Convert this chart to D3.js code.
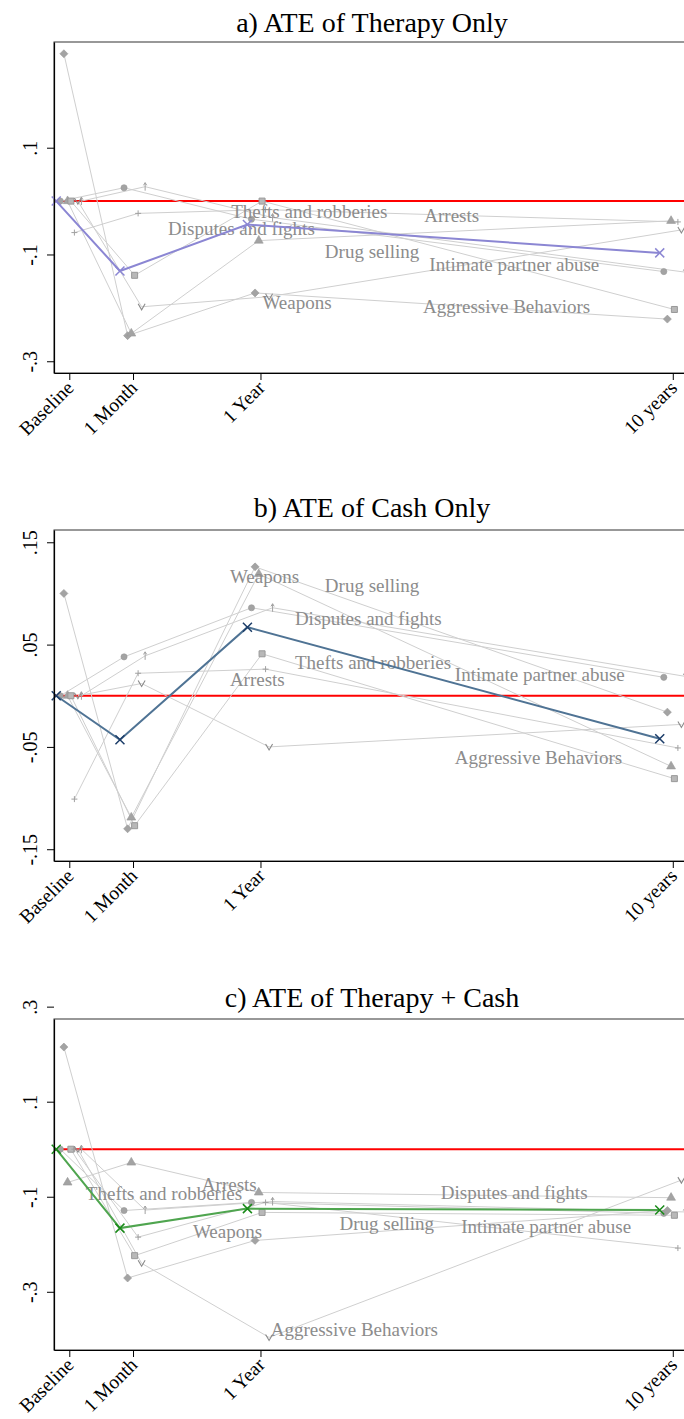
<!DOCTYPE html>
<html><head><meta charset="utf-8">
<script src="https://cdn.jsdelivr.net/npm/d3@7"></script>
<style>body{margin:0;background:#fff} svg{display:block} text{font-family:"Liberation Serif","Times New Roman",serif}</style>
</head><body>
<script>
// ---------- data ----------
const periods = ["Baseline", "1 Month", "1 Year", "10 years"];
const periodPos = [0, 1, 3, 9.47];
const outcomes = ["Disputes and fights", "Weapons", "Arrests", "Thefts and robberies",
                  "Intimate partner abuse", "Aggressive Behaviors", "Drug selling"];
const outcomeMarkers = ["circle", "diamond", "triangle", "square", "plus", "vee", "arrow"];
const panelTitles = ["a) ATE of Therapy Only", "b) ATE of Cash Only", "c) ATE of Therapy + Cash"];

const therapyATE = [0, -0.131, -0.044, -0.097];
const therapyOutcomes = [
  [0, 0.025, -0.034, -0.132],
  [0.276, -0.252, -0.172, -0.221],
  [0, -0.248, -0.074, -0.037],
  [0, -0.139, 0, -0.203],
  [-0.059, -0.023, -0.016, -0.039],
  [0, -0.198, -0.179, -0.054],
  [0, 0.027, -0.031, -0.133]
];
const cashATE = [0, -0.043, 0.067, -0.042];
const cashOutcomes = [
  [0, 0.038, 0.086, 0.018],
  [0.100, -0.130, 0.126, -0.016],
  [0, -0.119, 0.119, -0.069],
  [0, -0.127, 0.041, -0.081],
  [-0.101, 0.022, 0.026, -0.051],
  [0, 0.012, -0.050, -0.028],
  [0, 0.039, 0.086, 0.019]
];
const bothATE = [0, -0.166, -0.125, -0.128];
const bothOutcomes = [
  [0, -0.129, -0.112, -0.135],
  [0.215, -0.271, -0.192, -0.129],
  [-0.070, -0.028, -0.091, -0.102],
  [0, -0.224, -0.133, -0.139],
  [0, -0.185, -0.112, -0.208],
  [0, -0.240, -0.396, -0.065],
  [0, -0.128, -0.110, -0.132]
];

const yTicksA = [0.1, -0.1, -0.3];   const yTickLabelsA = [".1", "-.1", "-.3"];
const yTicksB = [0.15, 0.05, -0.05, -0.15]; const yTickLabelsB = [".15", ".05", "-.05", "-.15"];
const yTicksC = [0.3, 0.1, -0.1, -0.3];  const yTickLabelsC = [".3", ".1", "-.1", "-.3"];

// ---------- layout (label anchors in data units, order = outcomes) ----------
const labelAnchorsA = [[1.55,-0.064],[3.03,-0.202],[5.57,-0.040],[2.54,-0.032],[5.65,-0.131],[5.55,-0.209],[4.01,-0.106]];
const labelAnchorsB = [[3.54,0.069],[2.52,0.110],[2.52,0.010],[3.54,0.026],[6.05,0.014],[6.05,-0.067],[4.01,0.101]];
const labelAnchorsC = [[5.83,-0.104],[1.94,-0.186],[2.08,-0.088],[0.26,-0.107],[6.15,-0.176],[3.16,-0.392],[4.24,-0.169]];
const markerJitter = [-0.141, -0.085, -0.027, 0.025, 0.08, 0.135, 0.19];
const ateJitter = -0.205;

const panels = [
  {title: panelTitles[0], ate: therapyATE, series: therapyOutcomes, ticks: yTicksA, tickLabels: yTickLabelsA,
   labels: labelAnchorsA, top: 42, titleY: 31.5, yDomain: [-0.322, 0.298], line: "#8b86d3", xcol: "#8b86d3"},
  {title: panelTitles[1], ate: cashATE, series: cashOutcomes, ticks: yTicksB, tickLabels: yTickLabelsB,
   labels: labelAnchorsB, top: 530, titleY: 517, yDomain: [-0.1615, 0.162], line: "#4f7394", xcol: "#1c3d69"},
  {title: panelTitles[2], ate: bothATE, series: bothOutcomes, ticks: yTicksC, tickLabels: yTickLabelsC,
   labels: labelAnchorsC, top: 1019, titleY: 1007, yDomain: [-0.4225, 0.274], line: "#4fa54f", xcol: "#188a18"}
];
const plotH = 331, plotL = 54, plotR = 690;

const svg = d3.select("body").append("svg").attr("width", 684).attr("height", 1419);
svg.append("rect").attr("width", 684).attr("height", 1419).attr("fill", "#fff");

const x = d3.scaleLinear().domain([-0.24, 9.74]).range([plotL, plotR]);

function markerPath(type) {
  switch (type) {
    case "circle": return d3.symbol(d3.symbolCircle, 30)();
    case "diamond": return "M0,-4L4,0L0,4L-4,0Z";
    case "triangle": return d3.symbol(d3.symbolTriangle, 34)();
    case "square": return "M-3,-3H3V3H-3Z";
    case "plus": return "M-3,0H3M0,-3V3";
    case "vee": return "M-3.5,-3L0,3L3.5,-3";
    case "arrow": return "M0,4V-4M-1.6,-1.4L0,-4L1.6,-1.4";
  }
}
function markerStyle(sel, type) {
  if (type === "plus" || type === "arrow") sel.attr("fill", "none").attr("stroke", "#a0a0a0").attr("stroke-width", 1);
  else if (type === "vee") sel.attr("fill", "none").attr("stroke", "#8a8a8a").attr("stroke-width", 1.1);
  else if (type === "square") sel.attr("fill", "#b8b8b8").attr("stroke", "#999").attr("stroke-width", 1);
  else sel.attr("fill", "#a3a3a3").attr("stroke", "#999").attr("stroke-width", 0.6);
}

panels.forEach(p => {
  const bottom = p.top + plotH;
  const y = d3.scaleLinear().domain(p.yDomain).range([bottom, p.top]);
  const g = svg.append("g");

  // title
  g.append("text").attr("x", 372).attr("y", p.titleY).attr("text-anchor", "middle")
    .attr("font-size", 28).attr("fill", "#000").text(p.title);

  // frame
  g.append("rect").attr("x", plotL).attr("y", p.top).attr("width", plotR - plotL).attr("height", plotH)
    .attr("fill", "none").attr("stroke", "#333").attr("stroke-width", 1);

  // zero line
  g.append("line").attr("x1", plotL).attr("x2", plotR).attr("y1", y(0)).attr("y2", y(0))
    .attr("stroke", "#ff0000").attr("stroke-width", 2);

  const clip = "clip" + p.top;
  svg.append("clipPath").attr("id", clip).append("rect")
    .attr("x", plotL - 6).attr("y", p.top - 6).attr("width", plotR - plotL + 12).attr("height", plotH + 12);
  const pg = g.append("g").attr("clip-path", `url(#${clip})`);

  // outcome series
  p.series.forEach((vals, k) => {
    const line = d3.line().x((d, i) => x(periodPos[i] + markerJitter[k])).y(d => y(d));
    pg.append("path").attr("d", line(vals)).attr("fill", "none").attr("stroke", "#cfcfcf").attr("stroke-width", 1);
  });
  p.series.forEach((vals, k) => {
    const type = outcomeMarkers[k];
    vals.forEach((v, i) => {
      const m = pg.append("path").attr("d", markerPath(type))
        .attr("transform", `translate(${x(periodPos[i] + markerJitter[k])},${y(v)})`);
      markerStyle(m, type);
    });
  });

  // outcome labels
  p.labels.forEach((a, k) => {
    g.append("text").attr("x", x(a[0])).attr("y", y(a[1])).attr("font-size", 19)
      .attr("fill", "#8c8c8c").text(outcomes[k]);
  });

  // ATE
  const aline = d3.line().x((d, i) => x(periodPos[i] + ateJitter)).y(d => y(d));
  g.append("path").attr("d", aline(p.ate)).attr("fill", "none").attr("stroke", p.line).attr("stroke-width", 2);
  p.ate.forEach((v, i) => {
    g.append("path").attr("d", "M-4.5,-4.5L4.5,4.5M-4.5,4.5L4.5,-4.5")
      .attr("transform", `translate(${x(periodPos[i] + ateJitter)},${y(v)})`)
      .attr("stroke", p.xcol).attr("stroke-width", 1.5).attr("fill", "none");
  });

  // y axis
  const ya = g.append("g").attr("transform", `translate(${plotL},0)`)
    .call(d3.axisLeft(y).tickValues(p.ticks).tickFormat((d, i) => p.tickLabels[i]).tickSize(7).tickSizeOuter(0));
  ya.select(".domain").attr("stroke", "#000").attr("stroke-width", 1.2);
  ya.selectAll(".tick line").attr("stroke", "#000").attr("stroke-width", 1);
  ya.selectAll(".tick text").attr("transform", "rotate(-90)").attr("x", 0).attr("y", -17).attr("dy", 0)
    .attr("text-anchor", "middle").attr("font-size", 20).attr("fill", "#000")
    .attr("font-family", "Liberation Serif, Times New Roman, serif");

  // x axis
  const xa = g.append("g").attr("transform", `translate(0,${bottom})`)
    .call(d3.axisBottom(x).tickValues(periodPos).tickFormat((d, i) => periods[i]).tickSize(7).tickSizeOuter(0));
  xa.select(".domain").attr("stroke", "#000").attr("stroke-width", 1.2);
  xa.selectAll(".tick line").attr("stroke", "#000").attr("stroke-width", 1);
  xa.selectAll(".tick text").attr("x", 0).attr("y", 0).attr("dy", 0)
    .attr("transform", "translate(5,16) rotate(-45)").attr("text-anchor", "end")
    .attr("font-size", 19.5).attr("fill", "#000")
    .attr("font-family", "Liberation Serif, Times New Roman, serif");
});
</script>
</body></html>
